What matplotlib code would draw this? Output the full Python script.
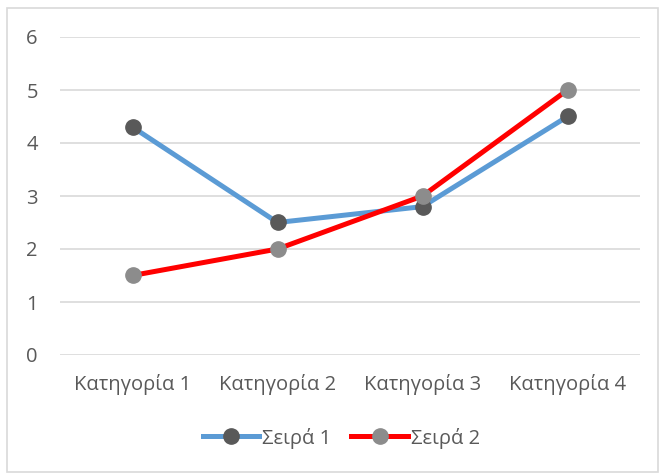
import matplotlib
matplotlib.use("Agg")
import matplotlib.pyplot as plt
from matplotlib.patches import Rectangle

categories = ["Κατηγορία 1", "Κατηγορία 2", "Κατηγορία 3", "Κατηγορία 4"]
series1 = [4.3, 2.5, 2.8, 4.5]
series2 = [1.5, 2.0, 3.0, 5.0]
series_names = ["Σειρά 1", "Σειρά 2"]
yticks = [0, 1, 2, 3, 4, 5, 6]

plt.rcParams['font.family'] = ['Open Sans', 'DejaVu Sans']
txt = '#595959'

fig = plt.figure(figsize=(6.6, 4.73), dpi=100)
fig.patches.append(Rectangle((7/660, 1-472/473), 651/660, 464/473, transform=fig.transFigure,
                             fill=False, edgecolor='#d9d9d9', linewidth=1.2))
ax = fig.add_axes([60/660, 1-355/473, 580/660, 318/473])
x = list(range(len(categories)))
ax.plot(x, series1, color='#5b9bd5', linewidth=3.6, marker='o', markersize=11,
        markerfacecolor='#595959', markeredgecolor='#595959', label=series_names[0], zorder=3)
ax.plot(x, series2, color='#ff0000', linewidth=3.6, marker='o', markersize=11,
        markerfacecolor='#8c8c8c', markeredgecolor='#8c8c8c', label=series_names[1], zorder=3)
ax.set_xlim(-0.5, 3.5)
ax.set_ylim(0, 6)
ax.set_yticks(yticks)
ax.set_xticks(x)
ax.set_xticklabels(categories)
ax.grid(axis='y', color='#d9d9d9', linewidth=1.2)
ax.set_axisbelow(True)
for s in ax.spines.values():
    s.set_visible(False)
ax.tick_params(length=0, labelsize=14.5, colors=txt)
ax.tick_params(axis='y', pad=16)
ax.tick_params(axis='x', pad=14)
leg = fig.legend(loc='center', bbox_to_anchor=(0.517, 1-438/473), ncol=2, frameon=False,
                 fontsize=14.5, handlelength=2.8, columnspacing=1.0, handletextpad=0.15)
for t in leg.get_texts():
    t.set_color(txt)
fig.savefig('out.png', dpi=100)
